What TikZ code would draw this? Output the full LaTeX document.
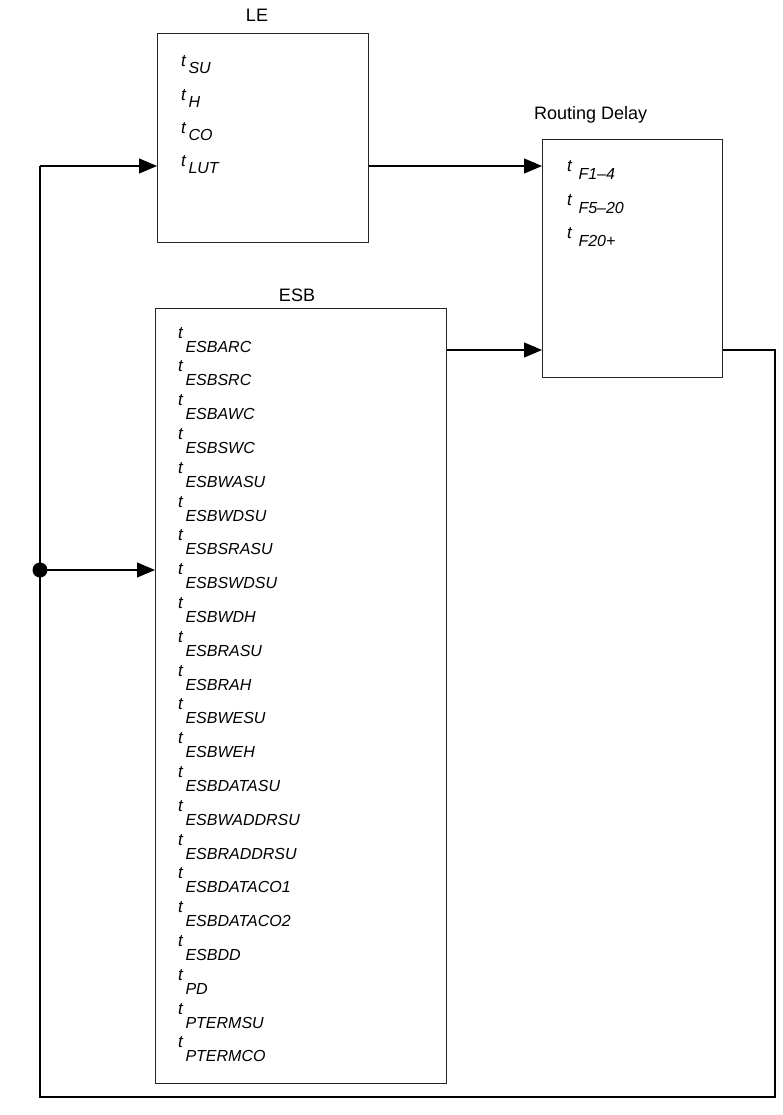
\documentclass[tikz,border=0pt]{standalone}
\usepackage{fontspec}
\setmainfont{Liberation Sans}
\usetikzlibrary{arrows.meta}
\newcommand{\tlab}[3]{{\fontsize{17}{19}\selectfont\textit{t}}\kern#1\raisebox{-#2}{\textit{#3}}}
\begin{document}
\begin{tikzpicture}[x=1pt,y=-1pt,
  box/.style={draw=black!85,line width=1.1pt,anchor=north west,inner sep=0pt},
  title/.style={font=\fontsize{18}{20}\selectfont,inner sep=0pt},
  entry/.style={font=\fontsize{16}{18}\selectfont,inner sep=0pt,anchor=base west},
  wire/.style={line width=1.1pt,black},
  arr/.style={wire,-{Triangle[length=18pt,width=15pt]}}]
\useasboundingbox (0,0) rectangle (783,1115);
% boxes
\node[box,minimum width=211pt,minimum height=209pt] (le) at (157,33) {};
\node[box,minimum width=180pt,minimum height=238pt] (rd) at (542,139) {};
\node[box,minimum width=291pt,minimum height=775pt] (esb) at (155,308) {};
% titles
\node[title] (lelab) at (257,15) {LE};
\node[title,anchor=west] (rdlab) at (534,115) {Routing Delay};
\node[title] (esblab) at (297,295) {ESB};
% LE entries
\foreach \s [count=\i from 0] in {SU,H,CO,LUT}
  \node[entry] (le\i) at (181,{67+33.3*\i}) {\tlab{2pt}{7pt}{\s}};
% Routing entries
\foreach \s [count=\i from 0] in {F1–4,F5–20,F20+}
  \node[entry] (rd\i) at (567,{172+33.5*\i}) {\tlab{6pt}{8pt}{\s}};
% ESB entries
\foreach \s [count=\i from 0] in {ESBARC,ESBSRC,ESBAWC,ESBSWC,ESBWASU,ESBWDSU,ESBSRASU,ESBSWDSU,ESBWDH,ESBRASU,ESBRAH,ESBWESU,ESBWEH,ESBDATASU,ESBWADDRSU,ESBRADDRSU,ESBDATACO1,ESBDATACO2,ESBDD,PD,PTERMSU,PTERMCO}
  \node[entry] (esb\i) at (178,{338+33.8*\i}) {\tlab{2pt}{14pt}{\s}};
% wiring coordinates
\coordinate (tl) at (40,166);
\coordinate (dot) at (40,570);
\coordinate (bl) at (40,1097);
\coordinate (br) at (775,1097);
\coordinate (rr) at (775,350);
% connectors
\draw[arr] (tl) -- (tl -| le.west);
\draw[arr] (le.east |- tl) -- (tl -| rd.west);
\draw[arr] (esb.east |- rr) -- (rr -| rd.west);
\draw[wire] (rd.east |- rr) -- (rr) -- (br) -- (bl) -- (tl);
\draw[arr] (dot) -- (dot -| esb.west);
\fill (dot) circle (7.5);
\end{tikzpicture}
\end{document}
